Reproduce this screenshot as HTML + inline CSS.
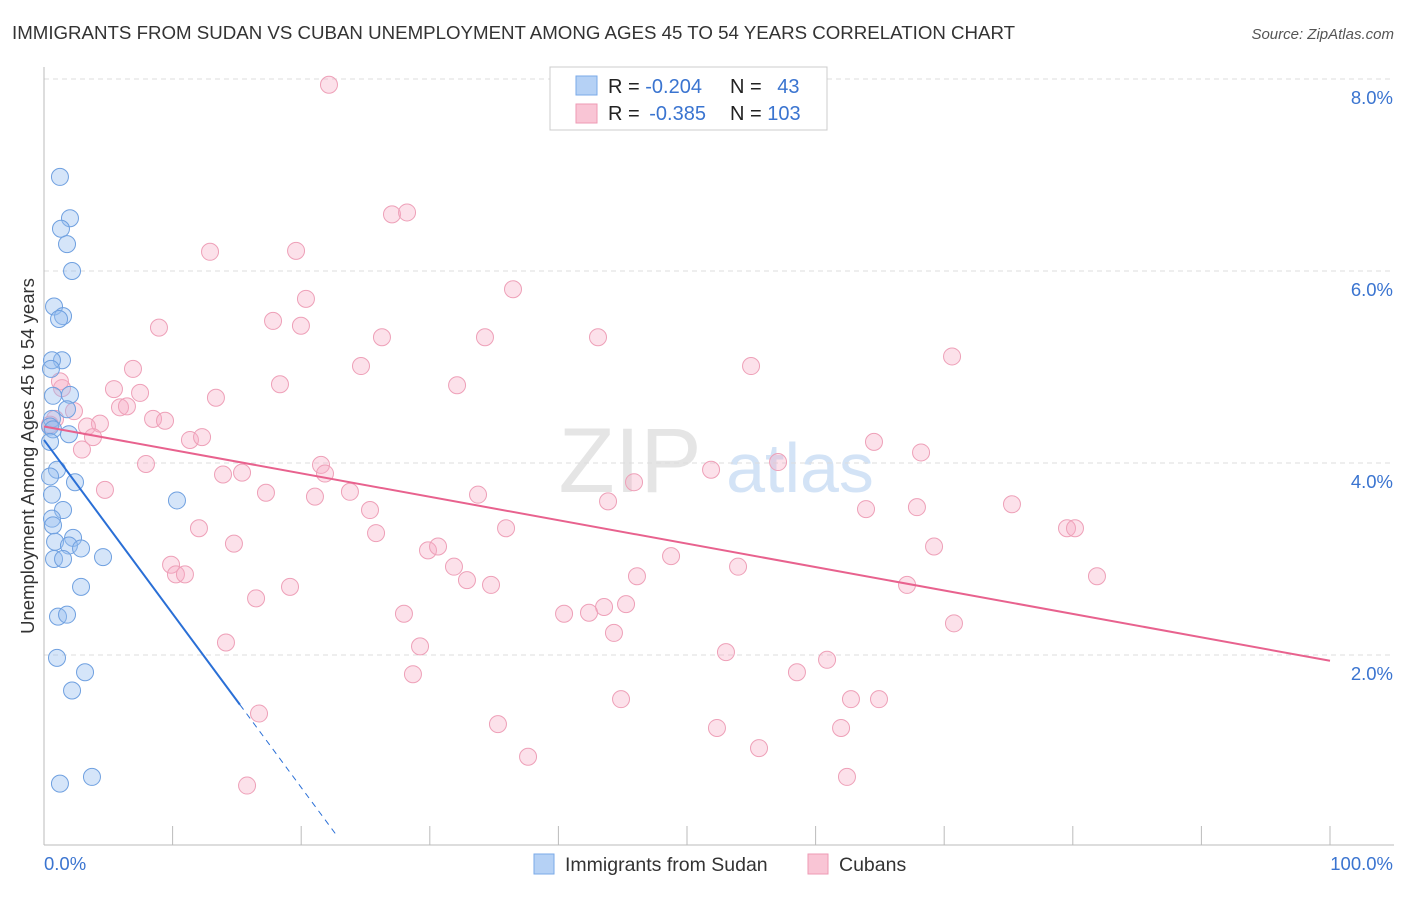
<!DOCTYPE html>
<html><head><meta charset="utf-8"><style>
body{margin:0;background:#fff;font-family:"Liberation Sans",sans-serif}
svg text{font-family:"Liberation Sans",sans-serif}
</style></head><body>
<svg id="c" width="1406" height="892">
<text x="12" y="39" font-size="18.7" fill="#333">IMMIGRANTS FROM SUDAN VS CUBAN UNEMPLOYMENT AMONG AGES 45 TO 54 YEARS CORRELATION CHART</text>
<text x="1394" y="39" font-size="15" fill="#555" font-style="italic" text-anchor="end">Source: ZipAtlas.com</text>
<text x="0" y="0" transform="translate(34,456) rotate(-90)" font-size="18.5" fill="#333" text-anchor="middle">Unemployment Among Ages 45 to 54 years</text>
<text x="630" y="492" font-size="92" fill="#ccc" opacity="0.5" font-family="Liberation Serif" text-anchor="middle">ZIP</text>
<text x="800" y="492" font-size="70" fill="#a8c8ee" opacity="0.5" text-anchor="middle">atlas</text>
<g id="grid"></g><g id="pts"></g><g id="lines"></g>
<g>
<rect x="550" y="67" width="277" height="63" fill="#fff" stroke="#ccc"/>
<rect x="576" y="76" width="21" height="19" fill="#b5d1f5" stroke="#7aaae8"/>
<rect x="576" y="104" width="21" height="19" fill="#f9c5d5" stroke="#ee9ab4"/>
<text x="608" y="93" font-size="20" fill="#222">R = <tspan fill="#3a74d0">-0.204</tspan></text>
<text x="730" y="93" font-size="20" fill="#222">N = <tspan fill="#3a74d0" dx="10">43</tspan></text>
<text x="608" y="120" font-size="20" fill="#222">R = <tspan fill="#3a74d0" dx="4">-0.385</tspan></text>
<text x="730" y="120" font-size="20" fill="#222">N = <tspan fill="#3a74d0">103</tspan></text>
</g>
<g>
<rect x="534" y="854" width="20" height="20" fill="#b5d1f5" stroke="#7aaae8"/>
<text x="565" y="871" font-size="19.5" fill="#333">Immigrants from Sudan</text>
<rect x="808" y="854" width="20" height="20" fill="#f9c5d5" stroke="#ee9ab4"/>
<text x="839" y="871" font-size="19.5" fill="#333">Cubans</text>
</g>
</svg>
<script>
const yTicks=[2,4,6,8];
const xTickLabels=["0.0%","100.0%"];
const blueX=[1.24,2.02,1.32,1.79,2.18,0.78,1.48,1.17,1.40,0.62,0.54,0.70,2.02,1.79,0.62,0.47,0.70,1.94,0.47,1.01,0.47,2.41,10.34,0.62,1.48,0.62,0.70,2.26,0.86,1.94,2.88,0.78,1.48,4.59,2.88,1.09,1.79,1.01,3.19,2.18,1.24,3.73];
const blueY=[6.98,6.55,6.44,6.28,6.00,5.63,5.53,5.50,5.07,5.07,4.98,4.70,4.71,4.56,4.46,4.38,4.35,4.30,4.22,3.93,3.86,3.80,3.61,3.67,3.51,3.42,3.35,3.22,3.18,3.14,3.11,3.00,3.00,3.02,2.71,2.40,2.42,1.97,1.82,1.63,0.66,0.73];
const pinkX=[22.16,27.06,28.23,12.91,19.60,20.37,36.47,8.94,17.81,19.98,26.28,34.29,43.08,70.61,24.65,54.98,6.92,18.35,32.12,5.44,7.47,13.37,5.91,6.45,2.33,8.48,9.41,4.35,3.34,3.81,11.35,12.29,0.86,0.47,1.40,1.24,64.54,68.20,2.95,7.93,21.54,21.85,15.40,13.92,57.08,51.87,4.74,17.26,21.07,23.79,33.75,43.86,45.88,75.27,63.92,67.88,25.35,12.05,35.93,79.55,80.17,25.82,14.77,29.86,30.64,69.21,48.76,31.88,9.88,10.26,10.96,53.97,32.89,46.11,81.88,19.13,34.76,67.11,16.49,45.26,43.55,40.44,42.38,27.99,44.32,70.76,14.15,29.24,53.03,60.89,58.55,28.69,44.87,62.75,64.93,16.72,35.30,52.33,61.98,55.60,37.64,62.44,15.79];
const pinkY=[7.94,6.59,6.61,6.20,6.21,5.71,5.81,5.41,5.48,5.43,5.31,5.31,5.31,5.11,5.01,5.01,4.98,4.82,4.81,4.77,4.73,4.68,4.58,4.59,4.54,4.46,4.44,4.41,4.38,4.27,4.24,4.27,4.46,4.40,4.78,4.85,4.22,4.11,4.14,3.99,3.98,3.89,3.90,3.88,4.01,3.93,3.72,3.69,3.65,3.70,3.67,3.60,3.80,3.57,3.52,3.54,3.51,3.32,3.32,3.32,3.32,3.27,3.16,3.09,3.13,3.13,3.03,2.92,2.94,2.84,2.84,2.92,2.78,2.82,2.82,2.71,2.73,2.73,2.59,2.53,2.50,2.43,2.44,2.43,2.23,2.33,2.13,2.09,2.03,1.95,1.82,1.80,1.54,1.54,1.54,1.39,1.28,1.24,1.24,1.03,0.94,0.73,0.64];
const blueTrend=[4.24,-0.181,15.24,22.8]; // intercept, slope, solid end, dashed end
const pinkTrend=[4.38,-0.0244,100];
const NS="http://www.w3.org/2000/svg";
const X=v=>44+v*12.86, Y=v=>847-v*96;
function mk(t,a,p){const e=document.createElementNS(NS,t);for(const k in a)e.setAttribute(k,a[k]);p.appendChild(e);return e;}
const grid=document.getElementById('grid');
for(const t of yTicks){
 const l=mk('line',{x1:44,x2:1394,y1:Y(t),y2:Y(t),stroke:'#ddd','stroke-dasharray':'5,4'},grid);
 
 
 const tx=mk('text',{x:1393,y:Y(t)+25,'font-size':18.5,fill:'#3a74d0','text-anchor':'end'},grid);
 tx.textContent=t.toFixed(1)+'%';
 
 
}
const ax=mk('line',{x1:44,x2:1394,y1:845,y2:845,stroke:'#bbb'},grid);


const ay=mk('line',{x1:44,x2:44,y1:67,y2:845,stroke:'#bbb'},grid);


for(let i=0;i<=10;i++){const tk=mk('line',{x1:X(i*10),x2:X(i*10),y1:826,y2:845,stroke:'#bbb'},grid);
 
 }
const xl0=mk('text',{x:44,y:870,'font-size':18.5,fill:'#3a74d0'},grid);xl0.textContent=xTickLabels[0];


const xl1=mk('text',{x:1393,y:870,'font-size':18.5,fill:'#3a74d0','text-anchor':'end'},grid);xl1.textContent=xTickLabels[1];


const pts=document.getElementById('pts');
pinkX.forEach((v,i)=>{const c=mk('circle',{cx:X(v),cy:Y(pinkY[i]),r:8.5,fill:'rgba(246,170,195,0.35)',stroke:'#eea0b8','stroke-width':1},pts);
 
 });
blueX.forEach((v,i)=>{const c=mk('circle',{cx:X(v),cy:Y(blueY[i]),r:8.5,fill:'rgba(150,190,240,0.4)',stroke:'#6fa0e0','stroke-width':1},pts);
 
 });
const lines=document.getElementById('lines');
const bl=mk('line',{x1:X(0),y1:Y(blueTrend[0]),x2:X(blueTrend[2]),y2:Y(blueTrend[0]+blueTrend[1]*blueTrend[2]),stroke:'#2a6fd6','stroke-width':2},lines);


const bd=mk('line',{x1:X(blueTrend[2]),y1:Y(blueTrend[0]+blueTrend[1]*blueTrend[2]),x2:X(blueTrend[3]),y2:Y(blueTrend[0]+blueTrend[1]*blueTrend[3]),stroke:'#2a6fd6','stroke-width':1,'stroke-dasharray':'6,5'},lines);


const pl=mk('line',{x1:X(0),y1:Y(pinkTrend[0]),x2:X(pinkTrend[2]),y2:Y(pinkTrend[0]+pinkTrend[1]*pinkTrend[2]),stroke:'#e8628e','stroke-width':2},lines);


</script>
</body></html>
